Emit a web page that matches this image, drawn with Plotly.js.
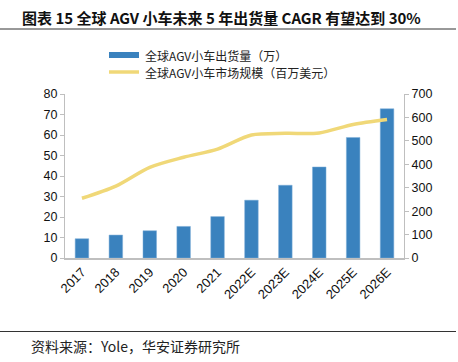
<!DOCTYPE html>
<html><head><meta charset="utf-8">
<script src="https://cdn.plot.ly/plotly-3.0.1.min.js"></script>
<style>html,body{margin:0;padding:0;background:#fff}#c{width:458px;height:362px}</style>
</head><body><div id="c"></div>
<script>
const categories = ['2017','2018','2019','2020','2021','2022E','2023E','2024E','2025E','2026E'];
const shipments = [9.4, 11.2, 13.3, 15.4, 20.2, 28.2, 35.5, 44.4, 58.8, 72.8];
const marketSize = [255, 307, 387, 430, 465, 525, 532, 534, 570, 591];
const barName = '全球AGV小车出货量（万）';
const lineName = '全球AGV小车市场规模（百万美元）';
const titleText = '<b>图表 15 全球 AGV 小车未来 5 年出货量 CAGR 有望达到 30%</b>';
const sourceText = '资料来源：Yole，华安证券研究所';

const cjk = '"Noto Sans CJK SC", sans-serif';
const latin = '"Liberation Sans", Arial, sans-serif';
const barColor = '#3A82BE', lineColor = '#F0D878';

const data = [
  {type:'bar', x:categories, y:shipments, name:barName, marker:{color:barColor, line:{color:'#7FAFD8', width:0.5}}, width:0.4, yaxis:'y'},
  {type:'scatter', mode:'lines', x:categories, y:marketSize, name:lineName, line:{color:lineColor, width:3.5, shape:'spline', smoothing:0.8}, yaxis:'y2'}
];
const plotW = 458-65-54, plotH = 362-94-104;
function px2x(px){return (px-65)/plotW;}
function py2y(py){return (362-104-py)/plotH;}
const layout = {
  width:458, height:362,
  margin:{l:65, r:54, t:94, b:104},
  paper_bgcolor:'#fff', plot_bgcolor:'#fff',
  showlegend:false,
  xaxis:{type:'category', tickangle:-45, tickfont:{family:latin, size:13, color:'#111'}, showline:true, linecolor:'#BFBFBF', linewidth:1.5, ticks:'', showgrid:false, zeroline:false},
  yaxis:{range:[0,80], dtick:10, tickfont:{family:latin, size:12.5, color:'#111'}, showline:true, linecolor:'#BFBFBF', linewidth:1, ticks:'outside', ticklen:4, tickcolor:'#BFBFBF', showgrid:false, zeroline:false},
  yaxis2:{range:[0,700], dtick:100, overlaying:'y', side:'right', tickfont:{family:latin, size:12.5, color:'#111'}, showline:true, linecolor:'#BFBFBF', linewidth:1, ticks:'outside', ticklen:4, tickcolor:'#BFBFBF', showgrid:false, zeroline:false},
  annotations:[
    {text:titleText, xref:'paper', yref:'paper', x:px2x(20), y:py2y(17), xanchor:'left', yanchor:'middle', showarrow:false, font:{family:cjk, size:15, color:'#111'}},
    {text:sourceText, xref:'paper', yref:'paper', x:px2x(29), y:py2y(346), xanchor:'left', yanchor:'middle', showarrow:false, font:{family:cjk, size:14, color:'#222'}},
    {text:barName, xref:'paper', yref:'paper', x:px2x(144), y:py2y(55), xanchor:'left', yanchor:'middle', showarrow:false, borderpad:0, font:{family:cjk, size:12, color:'#222'}},
    {text:lineName, xref:'paper', yref:'paper', x:px2x(144), y:py2y(72.5), xanchor:'left', yanchor:'middle', showarrow:false, borderpad:0, font:{family:cjk, size:12, color:'#222'}}
  ],
  shapes:[
    {type:'line', xref:'paper', yref:'paper', x0:px2x(0), x1:px2x(456), y0:py2y(29), y1:py2y(29), line:{color:'#333', width:1}},
    {type:'line', xref:'paper', yref:'paper', x0:px2x(0), x1:px2x(456), y0:py2y(331.5), y1:py2y(331.5), line:{color:'#333', width:1}},
    {type:'rect', xref:'paper', yref:'paper', x0:px2x(109), x1:px2x(139), y0:py2y(58), y1:py2y(52), fillcolor:barColor, line:{width:0}},
    {type:'line', xref:'paper', yref:'paper', x0:px2x(109), x1:px2x(139), y0:py2y(72), y1:py2y(72), line:{color:lineColor, width:3.5}}
  ]
};
Plotly.newPlot('c', data, layout, {displayModeBar:false, staticPlot:true});
</script></body></html>
